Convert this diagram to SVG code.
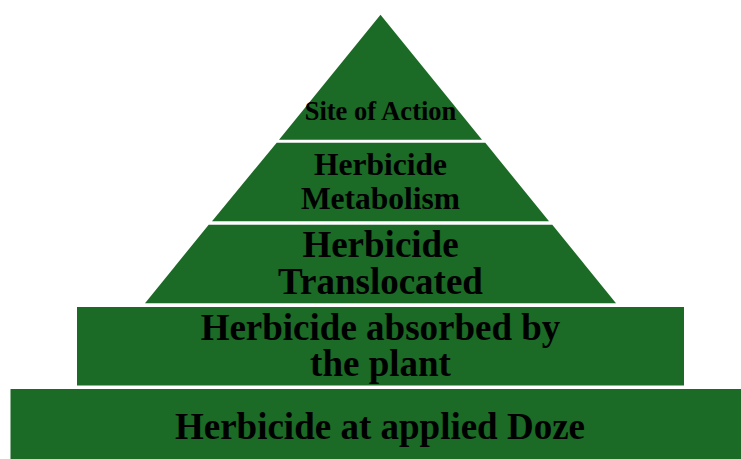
<svg xmlns="http://www.w3.org/2000/svg" width="741" height="459" viewBox="0 0 741 459">
<style>
.band{fill:#1b6a25;}
.t{font-family:"Liberation Serif","Times New Roman",serif;font-weight:bold;fill:#000;text-anchor:middle;}
</style>
<rect width="741" height="459" fill="#ffffff"/>
<g id="site-of-action">
<polygon class="band" points="380.5,14.7 279,139.7 482,139.7"/>
<text class="t" x="380.5" y="119.5" font-size="26.5">Site of Action</text>
</g>
<g id="metabolism">
<polygon class="band" points="276.7,142.7 485.3,142.7 549,221.3 212,221.3"/>
<text class="t" x="380.5" y="175" font-size="31.5">Herbicide</text>
<text class="t" x="380.5" y="209" font-size="31.5">Metabolism</text>
</g>
<g id="translocated">
<polygon class="band" points="208.7,224.7 552.3,224.7 616,303.3 145,303.3"/>
<text class="t" x="380.5" y="257" font-size="37">Herbicide</text>
<text class="t" x="380.5" y="294" font-size="37">Translocated</text>
</g>
<g id="absorbed">
<rect class="band" x="77" y="307" width="607" height="78.5"/>
<text class="t" x="380.5" y="340" font-size="37">Herbicide absorbed by</text>
<text class="t" x="380.5" y="376" font-size="37">the plant</text>
</g>
<g id="applied-dose">
<rect class="band" x="10.5" y="389" width="730.5" height="70"/>
<text class="t" x="380" y="439" font-size="37">Herbicide at applied Doze</text>
</g>
<g id="connectors"/>
</svg>
